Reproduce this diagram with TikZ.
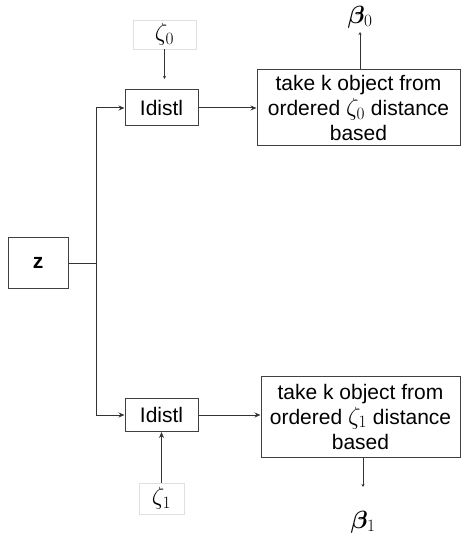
\documentclass[tikz,border=0pt]{standalone}
\usepackage{fontspec}
\setmainfont{Liberation Sans}
\usepackage{amsmath,bm}
\usetikzlibrary{arrows.meta}
\begin{document}
\begin{tikzpicture}[x=1pt,y=-1pt,
  every node/.style={font=\fontsize{21}{25}\selectfont, inner sep=0pt},
  greek/.style={font=\fontsize{25}{30}\selectfont},
  box/.style={draw=black!75, line width=1pt, align=center},
  lbox/.style={draw=black!12, line width=0.8pt},
  conn/.style={draw=black!80, line width=1pt},
  arr/.style={conn, -{Stealth[length=6pt,width=5pt]}},
  sarr/.style={conn, -{Stealth[length=3pt,width=3pt]}}]
\useasboundingbox (0,0) rectangle (461,537);
\node[box, minimum width=60pt, minimum height=51pt, font=\fontsize{21}{25}\selectfont\bfseries] (z) at (38,263) {z};
\node[lbox, greek, minimum width=63pt, minimum height=29pt] (zeta0) at (164.5,34.5) {$\zeta_0$};
\node[box, minimum width=73pt, minimum height=36pt] (d0) at (161.5,108) {Idistl};
\node[box, minimum width=203pt, minimum height=76pt] (b0) at (358.5,108) {take k object from\\ordered {\fontsize{25}{25}\selectfont$\zeta_0$} distance\\based};
\node[greek] (beta0) at (360,17) {$\bm{\beta}_0$};
\node[box, minimum width=73pt, minimum height=33pt] (d1) at (161.5,415) {Idistl};
\node[box, minimum width=199pt, minimum height=81pt] (b1) at (360.5,416.5) {take k object from\\ordered {\fontsize{25}{25}\selectfont$\zeta_1$} distance\\based};
\node[lbox, greek, minimum width=45pt, minimum height=31pt] (zeta1) at (161.5,498.5) {$\zeta_1$};
\node[greek] (beta1) at (363,522) {$\bm{\beta}_1$};
\coordinate (J) at (96,263);
\coordinate (e0) at (164.5,79);
\coordinate (e1) at (363,487);
\coordinate (t0) at (360,32);
\draw[conn] (z.east) -- (J);
\draw[arr] (J) |- (d0.west);
\draw[arr] (J) |- (d1.west);
\draw[sarr] (zeta0.south) -- (e0);
\draw[arr] (d0.east) -- (d0.east -| b0.west);
\draw[sarr] (b0.north -| t0) -- (t0);
\draw[arr] (d1.east) -- (d1.east -| b1.west);
\draw[arr] (zeta1.north) -- (d1.south);
\draw[sarr] (b1.south -| e1) -- (e1);
\end{tikzpicture}
\end{document}
